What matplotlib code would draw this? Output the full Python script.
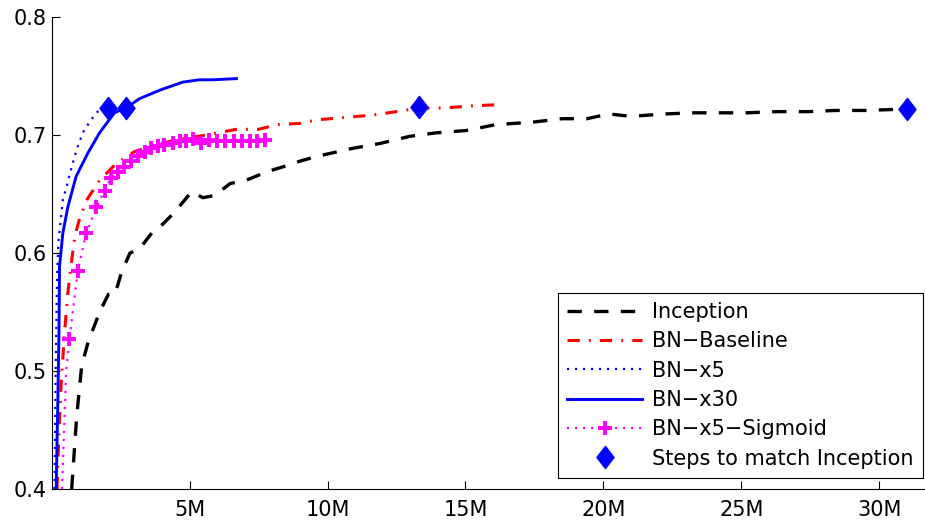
import matplotlib
matplotlib.use("Agg")
import matplotlib.pyplot as plt
from matplotlib.path import Path

plt.rcParams['font.family'] = ['DejaVu Sans']

# training steps in millions, validation accuracy
inception_x = [0.73, 0.91, 1.09, 1.33, 1.76, 2.06, 2.3, 2.54, 2.84, 3.2, 3.63, 4.05, 4.47, 5.07,
               5.49, 5.92, 6.47, 7.07, 7.8, 8.64, 9.0, 9.6, 10.94, 11.9, 12.97, 13.93, 15.03,
               16.1, 17.4, 18.5, 19.4, 20.2, 21.0, 22.2, 23.2, 24.3, 25.2, 26.3, 27.4, 28.4,
               29.5, 30.7, 31.0]
inception_y = [0.400, 0.461, 0.504, 0.525, 0.551, 0.565, 0.565, 0.584, 0.600, 0.604, 0.617,
               0.625, 0.635, 0.652, 0.647, 0.649, 0.659, 0.662, 0.669, 0.675, 0.678, 0.682,
               0.689, 0.693, 0.699, 0.702, 0.704, 0.709, 0.711, 0.714, 0.714, 0.718, 0.716,
               0.718, 0.719, 0.719, 0.719, 0.720, 0.720, 0.721, 0.721, 0.722, 0.722]

baseline_x = [0.2, 0.27, 0.35, 0.47, 0.59, 0.72, 0.85, 1.05, 1.3, 1.75, 2.3, 3.0, 3.9, 4.8,
              5.8, 6.7, 7.5, 8.2, 9.0, 9.6, 10.6, 11.6, 12.5, 13.3, 14.2, 15.3, 16.3]
baseline_y = [0.40, 0.45, 0.49, 0.532, 0.566, 0.592, 0.615, 0.632, 0.646, 0.662, 0.675,
              0.686, 0.693, 0.697, 0.701, 0.705, 0.705, 0.709, 0.710, 0.713, 0.715, 0.717,
              0.720, 0.723, 0.723, 0.725, 0.726]

x5_x = [0.11, 0.15, 0.2, 0.25, 0.41, 0.53, 0.73, 0.9, 1.13, 1.43, 1.67, 1.9]
x5_y = [0.40, 0.50, 0.58, 0.61, 0.645, 0.655, 0.673, 0.687, 0.702, 0.713, 0.720, 0.723]

x30_x = [0.17, 0.2, 0.23, 0.27, 0.29, 0.41, 0.59, 0.89, 1.32, 1.74, 2.28, 2.75, 3.19, 3.9,
         4.75, 5.36, 5.84, 6.7]
x30_y = [0.40, 0.44, 0.476, 0.532, 0.589, 0.617, 0.639, 0.665, 0.685, 0.702, 0.719, 0.724,
         0.731, 0.738, 0.745, 0.747, 0.747, 0.748]

sigmoid_x = [0.38, 0.53, 0.65, 0.95, 1.26, 1.62, 1.92, 2.16, 2.4, 2.64, 2.88, 3.13, 3.37,
             3.61, 3.85, 4.09, 4.39, 4.64, 4.88, 5.12, 5.42, 5.72, 6.0, 6.3, 6.6, 6.9, 7.2,
             7.46, 7.72]
sigmoid_y = [0.40, 0.50, 0.527, 0.585, 0.617, 0.639, 0.653, 0.664, 0.669, 0.673, 0.678,
             0.682, 0.686, 0.689, 0.691, 0.692, 0.693, 0.695, 0.695, 0.697, 0.693, 0.696,
             0.695, 0.695, 0.695, 0.695, 0.695, 0.695, 0.696]

match_x = [2.04, 2.7, 13.3, 31.0]
match_y = [0.723, 0.723, 0.724, 0.722]

x_ticks = [5, 10, 15, 20, 25, 30]
y_ticks = [0.4, 0.5, 0.6, 0.7, 0.8]

# taller matlab-style diamond
diamond = Path([(0, 1), (0.77, 0), (0, -1), (-0.77, 0), (0, 1)],
               [Path.MOVETO, Path.LINETO, Path.LINETO, Path.LINETO, Path.CLOSEPOLY])

fig = plt.figure(figsize=(9.25, 5.24), dpi=100)
ax = fig.add_axes([0.0557, 0.0668, 0.9443, 0.9002])

ax.plot(inception_x, inception_y, color='black', lw=2.4, dashes=(4.3, 3.7),
        label='Inception')
ax.plot(baseline_x, baseline_y, color='red', lw=2.2, dashes=(4, 3, 0.6, 3),
        label='BN\u2212Baseline')
ax.plot(x5_x, x5_y, color='blue', lw=1.6, dashes=(1, 2.6), label='BN\u2212x5')
ax.plot(x30_x, x30_y, color='blue', lw=2.1, label='BN\u2212x30')
ax.plot(sigmoid_x, sigmoid_y, color='magenta', lw=1.6, dashes=(1, 2.6), marker='+',
        markersize=9.5, markeredgewidth=2.8, markevery=slice(2, None),
        label='BN\u2212x5\u2212Sigmoid')
ax.plot(match_x, match_y, linestyle='none', marker=diamond, markersize=16,
        color='blue', label='Steps to match Inception', zorder=5)

ax.set_xlim(0, 31.65)
ax.set_ylim(0.4, 0.8)
ax.set_xticks(x_ticks)
ax.set_xticklabels([f'{t}M' for t in x_ticks])
ax.set_yticks(y_ticks)
ax.set_yticklabels([f'{t:.1f}' for t in y_ticks])
ax.tick_params(direction='in', length=6, width=0.8, labelsize=15)
ax.tick_params(axis='y', pad=3.5)
ax.tick_params(axis='x', pad=8)
ax.spines['top'].set_visible(False)
ax.spines['right'].set_visible(False)

leg = ax.legend(loc='lower right', bbox_to_anchor=(0.998, 0.023), borderaxespad=0,
                fontsize=15, handlelength=3.6, handletextpad=0.48, labelspacing=0.45,
                borderpad=0.45, fancybox=False, framealpha=1, edgecolor='black')
leg.get_frame().set_linewidth(0.8)

fig.savefig('out.png', dpi=100)
